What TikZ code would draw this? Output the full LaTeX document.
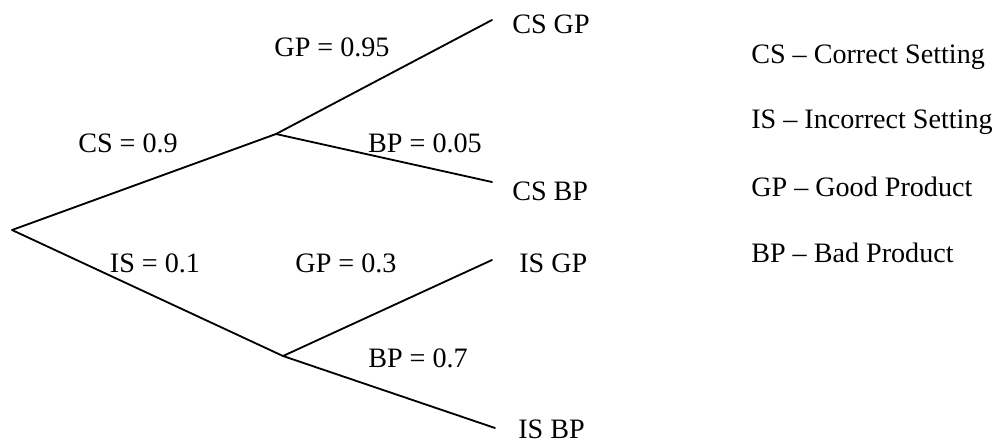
\documentclass[tikz,border=0pt]{standalone}
\usepackage{fontspec}
\setmainfont{Liberation Serif}
\usetikzlibrary{positioning}
\tikzset{
  branch/.style={line width=1.3pt, line cap=round, line join=round},
  problbl/.style={inner sep=0pt, font=\fontsize{20}{23}\selectfont},
  leaflbl/.style={inner sep=0pt, anchor=west, font=\fontsize{20}{23}\selectfont},
  keylbl/.style={inner sep=0pt, anchor=west, font=\fontsize{20}{23}\selectfont},
}

\begin{document}
\begin{tikzpicture}[x=0.025cm, y=-0.025cm]
    \useasboundingbox (0,0) rectangle (1000,443);
    % branch points
    \coordinate (root) at (12,230);
    \coordinate (cs) at (276,134);
    \coordinate (is) at (283,356);
    \coordinate (csgp) at (492,20);
    \coordinate (csbp) at (492,182);
    \coordinate (isgp) at (492,260);
    \coordinate (isbp) at (495,428);
    \draw[branch] (csgp) -- (cs) -- (root) -- (is) -- (isbp);
    \draw[branch] (cs) -- (csbp);
    \draw[branch] (is) -- (isgp);
    % outcomes
    \node[leaflbl] (csgptxt) at (512,24) {CS GP};
    \node[leaflbl] (csbptxt) at (512,191) {CS BP};
    \node[leaflbl] (isgptxt) at (519,263) {IS GP};
    \node[leaflbl] (isbptxt) at (518,429) {IS BP};
    % probabilities
    \node[problbl] (pcs) at (128,143) {CS = 0.9};
    \node[problbl] (pis) at (155,263) {IS = 0.1};
    \node[problbl] (pcsgp) at (332,47) {GP = 0.95};
    \node[problbl] (pcsbp) at (425,143) {BP = 0.05};
    \node[problbl] (pisgp) at (346,263) {GP = 0.3};
    \node[problbl] (pisbp) at (418,358) {BP = 0.7};
    % key
    \node[keylbl] (keycs) at (751,57) {CS – Correct Setting};
    \node[keylbl] (keyis) at (751,122) {IS – Incorrect Setting};
    \node[keylbl] (keygp) at (751,187) {GP – Good Product};
    \node[keylbl] (keybp) at (751,253) {BP – Bad Product};
  \end{tikzpicture}
\end{document}
